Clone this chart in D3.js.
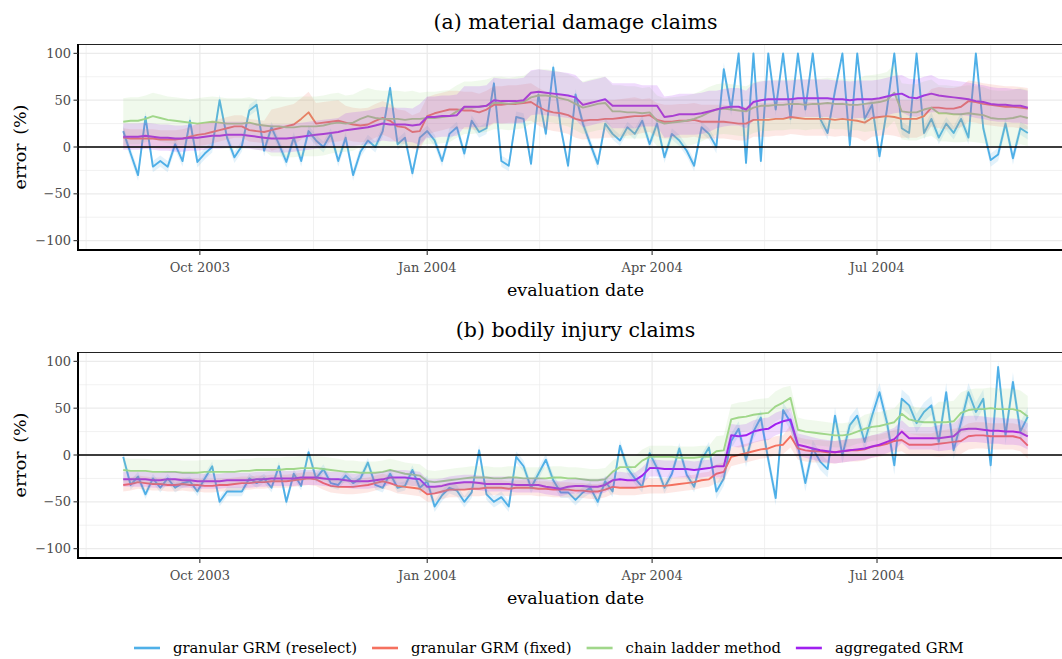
<!DOCTYPE html>
<html><head><meta charset="utf-8">
<script src="https://cdn.jsdelivr.net/npm/d3@7"></script>
<style>body{margin:0;background:#fff}svg{display:block}text{font-family:"DejaVu Serif",serif}</style>
</head><body><svg id="c" width="1062" height="659"></svg>
<script>
// ---------- data ----------
const startDate = "2003-08-31";   // first evaluation date
const stepDays = 3;               // spacing of the read values
const majorTicks = ["2003-10-01","2004-01-01","2004-04-01","2004-07-01"];
const tickLabels = ["Oct 2003","Jan 2004","Apr 2004","Jul 2004"];
const yTicks = [-100,-50,0,50,100];
const yTickLabels = ["\u2212100","\u221250","0","50","100"];
const yMinor = [-75,-25,25,75];
const seriesNames = ["granular GRM (reselect)","granular GRM (fixed)","chain ladder method","aggregated GRM"];
const panelTitles = ["(a) material damage claims","(b) bodily injury claims"];

// (a) material damage claims
const mdReselect = [17,-7,-30,32,-21,-15,-21,3,-15,28,-16,-7,0,50,10,-11,1,39,45,-4,21,3,-16,10,-15,17,7,0,14,-15,10,-30,-5,7,0,17,63,3,10,-28,10,
 17,7,-15,14,21,-7,28,16,20,68,-15,-20,32,30,-18,56,14,85,21,-20,56,25,3,-18,25,14,7,21,14,28,3,25,-11,14,7,-4,-20,21,14,0,83,
 40,100,-17,100,-15,100,40,100,30,100,40,100,30,15,60,100,2,100,30,45,-10,40,100,20,15,100,15,30,10,25,15,30,10,100,20,-14,-8,25,-12,20,15];
const mdFixed = [10,9,9,9,9,8,8,8,9,11, 13,14,16,18,20,22,22,18,17,16, 18,20,22,24,30,37,25,26,27,28, 26,24,23,24,28,31,28,22,21,16,
 17,33,36,38,40,40,39,39,37,40, 45,45,46,46,47,48,43,39,37,36, 34,30,28,29,29,30,30,31,32,33, 33,34,29,27,27,28,28,29,27,27,
 27,27,26,25,25,29,29,29,30,30, 32,31,30,30,30,30,29,30,29,28, 26,31,32,33,32,30,30,30,33,42, 42,41,41,43,49,48,46,45,44,43, 43,42,41];
const mdChain = [27,28,28,30,33,31,29,28,27,26, 25,26,27,26,25,25,25,26,24,23, 22,22,21,21,22,22,22,23,25,26, 25,26,30,33,31,30,30,30,29,30,
 30,31,31,32,33,38,42,42,43,44, 47,47,46,47,48,53,55,55,54,52, 50,46,42,44,46,47,38,38,37,37, 36,37,28,25,26,27,28,30,33,37,
 40,41,40,39,38,42,44,44,45,45, 46,46,45,46,46,47,46,46,45,45, 46,47,48,50,58,38,37,37,40,42, 36,36,35,35,36,35,34,31,30,30, 31,33,31];
const mdAggregated = [11,11,11,12,11,10,10,9,9,10, 10,11,12,12,13,13,13,12,11,10, 9,9,9,10,11,12,13,14,15,16, 18,19,20,21,23,25,24,24,24,23,
 24,32,32,33,33,34,43,43,43,44, 50,49,49,49,50,58,59,58,57,56, 55,53,45,47,49,51,44,44,44,44, 44,44,44,32,33,35,35,35,36,38,
 40,42,43,43,40,48,50,51,51,51, 51,52,52,52,52,52,51,51,50,51, 51,51,52,54,56,57,53,52,55,57, 55,54,53,52,51,49,48,46,45,45, 44,44,42];

// (b) bodily injury claims
const biReselect = [-2,-32,-23,-42,-25,-35,-25,-35,-30,-28, -39,-25,-12,-50,-39,-39,-39,-25,-30,-25, -35,-12,-50,-20,-33,3,-25,-15,-30,-32,
 -22,-30,-25,-8,-32,-35,-20,-35,-33,-16, -35,-28,-55,-43,-35,-38,-50,-40,5,-42, -50,-45,-55,-2,-12,-35,-20,-5,-27,-40,
 -40,-48,-40,-35,-50,-28,-39,10,-14,-25, -34,2,-14,-35,-20,7,-21,-34,-5,8, -39,-25,15,28,-5,25,40,-5,-46,48,
 35,10,-30,7,-7,-15,42,0,32,42, 14,42,67,35,-11,60,53,34,46,53, 14,67,5,35,67,46,60,-11,94,21, 78,25,41];
const biFixed = [-32,-31,-29,-30,-31,-31,-32,-32,-31,-32, -32,-33,-33,-32,-32,-31,-30,-30,-29,-29, -28,-28,-28,-27,-26,-25,-26,-30,-33,-34,
 -34,-34,-33,-32,-30,-28,-30,-33,-34,-35, -36,-42,-41,-39,-37,-37,-37,-36,-36,-35, -35,-35,-36,-35,-35,-35,-36,-36,-37,-37,
 -37,-38,-38,-39,-39,-37,-34,-35,-35,-35, -34,-33,-33,-33,-32,-31,-30,-29,-27,-26, -20,-18,-2,0,2,4,6,7,10,11,
 20,7,5,4,4,3,3,4,5,5, 6,9,10,12,15,16,11,11,11,11, 12,13,14,15,20,21,21,20,20,20, 20,18,10];
const biChain = [-16,-17,-17,-17,-18,-18,-18,-18,-19,-19, -19,-18,-18,-18,-18,-18,-17,-17,-16,-16, -16,-16,-15,-15,-14,-14,-14,-15,-16,-17,
 -18,-18,-19,-19,-19,-18,-16,-18,-20,-21, -22,-28,-29,-28,-27,-26,-25,-24,-24,-24, -25,-25,-24,-24,-25,-25,-25,-25,-24,-24,
 -25,-25,-26,-27,-27,-26,-18,-13,-13,-13, -6,-2,-2,-2,-2,-3,-3,-3,-2,-2, 4,5,38,40,41,43,44,45,52,56,
 61,27,25,24,23,22,21,21,22,25, 28,30,31,33,35,44,38,36,35,35, 35,35,36,45,48,49,49,50,49,49, 49,47,41];
const biAggregated = [-26,-26,-26,-26,-27,-27,-26,-26,-27,-27, -28,-28,-28,-28,-27,-27,-27,-27,-26,-26, -25,-25,-25,-25,-24,-24,-24,-25,-26,-26,
 -27,-28,-28,-28,-27,-26,-24,-24,-24,-25, -26,-34,-34,-33,-31,-30,-29,-29,-30,-31, -31,-31,-31,-32,-32,-32,-32,-34,-35,-36,
 -34,-33,-33,-34,-34,-32,-27,-26,-27,-27, -22,-14,-14,-15,-15,-15,-15,-16,-15,-14, -12,-12,21,20,21,25,27,28,33,36,
 38,11,9,7,5,4,3,4,5,6, 7,9,11,14,17,25,18,18,18,18, 18,19,20,27,28,28,27,26,26,25, 25,24,20];

// half-width of the uncertainty bands, one value per 30-day block
const mdBand = [
  [6,6,6,6,6,6,6,6,7,7,7,7,7],
  [10,12,22,18,20,20,20,18,18,18,20,22,22],
  [25,27,32,30,28,28,28,27,27,27,30,30,30],
  [14,14,15,18,22,24,24,22,20,20,20,18,18]];
const biBand = [
  [5,5,5,5,6,6,6,6,8,9,10,10,10],
  [7,7,7,8,8,8,8,8,10,12,12,14,14],
  [13,13,13,12,12,12,12,12,16,13,15,22,22],
  [8,8,8,8,8,8,8,9,12,12,12,14,14]];

// ---------- style ----------
const colors = ["#4FB0E8","#F5715F","#A0D78A","#A020F0"];
const lineW = [1.9,1.9,1.9,2.0];

const svg = d3.select("#c");
const X0 = 78, X1 = 1073;
const parse = d3.utcParse("%Y-%m-%d");
const t0 = parse(startDate);
const n = mdReselect.length;
const dates = d3.range(n).map(i => d3.utcDay.offset(t0, i*stepDays));
const span = dates[n-1] - dates[0];
const x = d3.scaleUtc()
  .domain([new Date(+dates[0] - 0.05*span), new Date(+dates[n-1] + 0.05*span)])
  .range([X0, X1]);
const majors = majorTicks.map(parse);
const ext = [d3.utcMonth.offset(majors[0], -3), ...majors, d3.utcMonth.offset(majors[majors.length-1], 3)];
const minors = d3.range(ext.length-1).map(k => new Date((+ext[k] + +ext[k+1])/2));

const panels = [
  {top:44, bottom:250, series:[mdReselect,mdFixed,mdChain,mdAggregated], band:mdBand, title:panelTitles[0]},
  {top:352, bottom:558, series:[biReselect,biFixed,biChain,biAggregated], band:biBand, title:panelTitles[1]}
];

panels.forEach((p, pi) => {
  const g = svg.append("g");
  const y = d3.scaleLinear().domain([-110,110]).range([p.bottom, p.top]);
  const cid = "clip"+pi;
  svg.append("clipPath").attr("id", cid).append("rect")
    .attr("x", X0).attr("y", p.top).attr("width", X1-X0).attr("height", p.bottom-p.top);
  const grid = g.append("g");
  yMinor.forEach(v => grid.append("line").attr("x1",X0).attr("x2",X1).attr("y1",y(v)).attr("y2",y(v))
    .attr("stroke","#ebebeb").attr("stroke-width",0.7));
  minors.forEach(d => grid.append("line").attr("x1",x(d)).attr("x2",x(d)).attr("y1",p.top).attr("y2",p.bottom)
    .attr("stroke","#ebebeb").attr("stroke-width",0.7).attr("clip-path",`url(#${cid})`));
  yTicks.forEach(v => grid.append("line").attr("x1",X0).attr("x2",X1).attr("y1",y(v)).attr("y2",y(v))
    .attr("stroke","#ebebeb").attr("stroke-width",1.3));
  majors.forEach(d => grid.append("line").attr("x1",x(d)).attr("x2",x(d)).attr("y1",p.top).attr("y2",p.bottom)
    .attr("stroke","#ebebeb").attr("stroke-width",1.3));

  const plot = g.append("g").attr("clip-path", `url(#${cid})`);
  const clamp = v => Math.max(-100, Math.min(100, v));
  const line = d3.line().x((d,i) => x(dates[i])).y(d => y(clamp(d)));
  // lines first, ribbons drawn over them
  p.series.forEach((s, si) => {
    plot.append("path").attr("d", line(s)).attr("fill","none")
      .attr("stroke", colors[si]).attr("stroke-width", lineW[si]).attr("stroke-linejoin","round");
  });
  p.series.forEach((s, si) => {
    const hw = p.band[si];
    const area = d3.area().x((d,i) => x(dates[i]))
      .y0((d,i) => y(clamp(d - hw[Math.floor(i/10)])))
      .y1((d,i) => y(clamp(d + hw[Math.floor(i/10)])));
    plot.append("path").attr("d", area(s)).attr("fill", colors[si]).attr("fill-opacity", 0.16);
  });
  // zero line
  g.append("line").attr("x1",X0).attr("x2",X1).attr("y1",y(0)).attr("y2",y(0))
    .attr("stroke","#000").attr("stroke-width",1.5);
  // frame
  g.append("line").attr("x1",X0).attr("x2",X1).attr("y1",p.top+0.5).attr("y2",p.top+0.5)
    .attr("stroke","#222").attr("stroke-width",1);
  g.append("line").attr("x1",X0).attr("x2",X0).attr("y1",p.top).attr("y2",p.bottom+1)
    .attr("stroke","#000").attr("stroke-width",2);
  g.append("line").attr("x1",X0-1).attr("x2",X1).attr("y1",p.bottom).attr("y2",p.bottom)
    .attr("stroke","#000").attr("stroke-width",2);
  // y ticks
  yTicks.forEach((v,k) => {
    g.append("line").attr("x1",X0-4.5).attr("x2",X0).attr("y1",y(v)).attr("y2",y(v))
      .attr("stroke","#333").attr("stroke-width",1.1);
    g.append("text").attr("x",X0-7).attr("y",y(v)).attr("dy","0.36em").attr("text-anchor","end")
      .attr("font-size",13).attr("fill","#4d4d4d").text(yTickLabels[k]);
  });
  // x ticks
  majors.forEach((d,k) => {
    g.append("line").attr("x1",x(d)).attr("x2",x(d)).attr("y1",p.bottom).attr("y2",p.bottom+5)
      .attr("stroke","#333").attr("stroke-width",1.1);
    g.append("text").attr("x",x(d)).attr("y",p.bottom+22).attr("text-anchor","middle")
      .attr("font-size",13).attr("fill","#4d4d4d").text(tickLabels[k]);
  });
  // titles
  const cx = (X0+X1)/2;
  g.append("text").attr("x",cx).attr("y",p.top-15).attr("text-anchor","middle")
    .attr("font-size",20.5).attr("fill","#000").text(p.title);
  g.append("text").attr("x",cx).attr("y",p.bottom+46).attr("text-anchor","middle")
    .attr("font-size",17.5).attr("fill","#000").text("evaluation date");
  const ym = y(0);
  g.append("text").attr("transform",`translate(26,${ym}) rotate(-90)`).attr("text-anchor","middle")
    .attr("font-size",17.5).attr("fill","#000").attr("word-spacing","3").text("error (%)");
});

// legend
const lg = svg.append("g");
let lx = 134;
const ly = 648;
seriesNames.forEach((name, si) => {
  lg.append("line").attr("x1",lx).attr("x2",lx+26).attr("y1",ly).attr("y2",ly)
    .attr("stroke",colors[si]).attr("stroke-width",2.6);
  const t = lg.append("text").attr("x",lx+39).attr("y",ly).attr("dy","0.32em")
    .attr("font-size",14.8).attr("fill","#000").text(name);
  lx += 39 + t.node().getComputedTextLength() + 15;
});
</script></body></html>
